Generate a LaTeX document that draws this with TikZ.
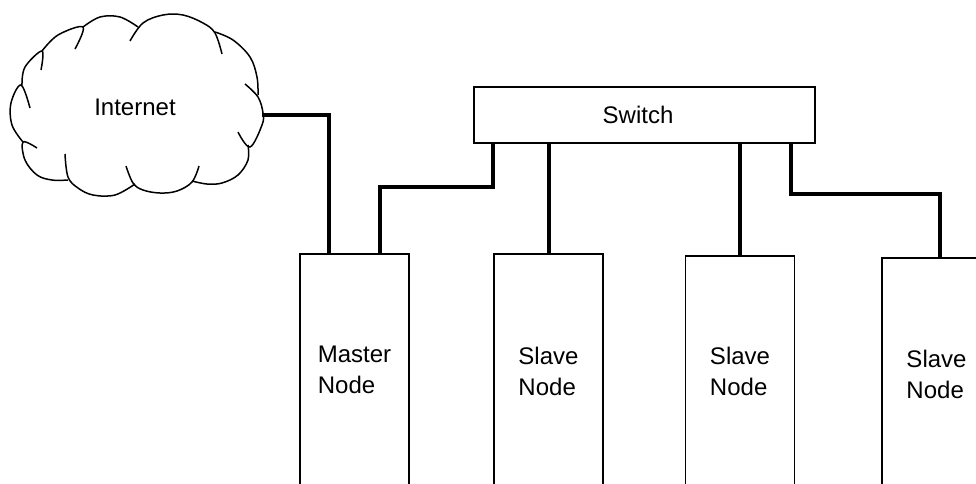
\documentclass[tikz,border=0pt]{standalone}
\usepackage{fontspec}
\setmainfont{Liberation Sans}
\usetikzlibrary{positioning}

\tikzset{
  box/.style={draw, line width=1.6pt, inner sep=0pt, outer sep=0pt, align=left,
    font=\fontsize{24}{31}\selectfont},
  nodebox/.style={box, minimum width=109pt, minimum height=232pt, anchor=north},
  wire/.style={line width=4pt, line cap=butt},
  cloudline/.style={line width=1.5pt, smooth, tension=0.6}
}

\begin{document}
\begin{tikzpicture}[x=1pt, y=-1pt]
    \clip (0,0) rectangle (976,483);
    % boxes
    \node[box, minimum width=341pt, minimum height=56pt] (switch) at (644.5,115) {\hspace*{-13pt}Switch};
    \node[nodebox] (master) at (354.5,254) {Master\\Node};
    \node[nodebox, minimum height=234pt] (slavea) at (548.5,254) {Slave\\Node};
    \node[nodebox, minimum height=230pt] (slaveb) at (740,256) {Slave\\Node};
    \node[nodebox] (slavec) at (936.5,258) {Slave\\Node};
    % cloud
    \node[inner sep=0pt, outer sep=0pt, minimum width=254pt, font=\fontsize{24}{31}\selectfont] (internet) at (135,107) {Internet};
    \draw[cloudline] plot coordinates {(130,41) (143,23) (163,15) (183,15) (203,23) (215,33) (222,54)};
    \draw[cloudline] plot coordinates {(215,32) (233,40) (250,57) (257,77) (258,95)};
    \draw[cloudline] plot coordinates {(245,84) (258,97) (263,113) (262,125) (250,147) (238,132)};
    \draw[cloudline] plot coordinates {(248,145) (248,160) (238,175) (222,183) (207,184) (192,181)};
    \draw[cloudline] plot coordinates {(199,166) (192,182) (177,191) (160,193) (143,190) (133,183) (126,166)};
    \draw[cloudline] plot coordinates {(135,184) (115,195) (93,195) (78,188) (68,177) (65,154)};
    \draw[cloudline] plot coordinates {(68,180) (52,180) (37,175) (25,160) (23,142) (37,148)};
    \draw[cloudline] plot coordinates {(23,142) (12,125) (11,103) (21,85) (30,108)};
    \draw[cloudline] plot coordinates {(22,85) (25,67) (42,51) (41,70)};
    \draw[cloudline] plot coordinates {(42,51) (58,35) (83,27) (75,49)};
    \draw[cloudline] plot coordinates {(83,27) (100,17) (120,17) (138,27)};
    % connectors
    \coordinate (masterbend) at (380,187);
    \coordinate (slavebend) at (940,194);
    \draw[wire] ([yshift=-8pt]internet.east) -| ([xshift=-26pt]master.north);
    \draw[wire] (masterbend |- master.north) -- (masterbend) -| ([xshift=-151.5pt]switch.south);
    \draw[wire] (slavea.north) -- (slavea.north |- switch.south);
    \draw[wire] (slaveb.north) -- (slaveb.north |- switch.south);
    \draw[wire] (slavebend |- slavec.north) -- (slavebend) -| ([xshift=146.5pt]switch.south);
\end{tikzpicture}
\end{document}
